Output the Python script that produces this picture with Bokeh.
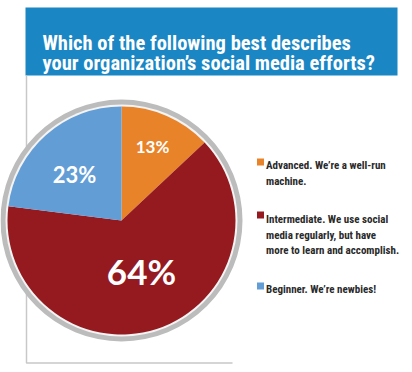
from bokeh.plotting import figure
from bokeh.models import Range1d, ColumnDataSource
from bokeh.core.properties import value
from bokeh.embed import file_html
from bokeh.resources import INLINE
import math

# ---- data ----
title_lines = ["Which of the following best describes",
               "your organization\u2019s social media efforts?"]
categories = ["Advanced", "Intermediate", "Beginner"]
shares = [13, 64, 23]
colors = ["#e8832a", "#951a1f", "#629dd6"]
pct_labels = ["13%", "64%", "23%"]
legend_texts = [
    ["Advanced. We\u2019re a well-run", "machine."],
    ["Intermediate. We use social", "media regularly, but have", "more to learn and accomplish."],
    ["Beginner. We\u2019re newbies!"],
]

W, H = 404, 364
p = figure(width=W, height=H, output_backend="svg", toolbar_location=None,
           x_range=Range1d(0, W), y_range=Range1d(0, H), min_border=0)
p.axis.visible = False
p.grid.visible = False
p.outline_line_color = None
p.background_fill_color = "white"
p.border_fill_color = "white"

cond = value("Roboto Condensed")

# title band
p.quad(left=25, right=397, bottom=289, top=357, fill_color="#1a86c4", line_color=None)
p.text(x=[42, 42], y=[322, 302], text=title_lines, text_font=cond,
       text_font_size="20.5px", text_font_style="bold", text_color="white",
       text_baseline="alphabetic")

# frame lines
p.line(x=[26, 26, 232], y=[289, 1.5, 1.5], line_color="#c8c8c8", line_width=1.5)

# pie
cx, cy, r = 121, 144, 114
p.circle(x=[cx], y=[cy], radius=r + 7, fill_color="#bcbcbc", line_color=None)
p.circle(x=[cx], y=[cy], radius=r + 2, fill_color="#f4f4f4", line_color=None)

total = sum(shares)
starts, ends = [], []
acc = 0.0
for s in shares:
    starts.append(math.pi / 2 - 2 * math.pi * acc / total)
    ends.append(math.pi / 2 - 2 * math.pi * (acc + s) / total)
    acc += s
src = ColumnDataSource(dict(start=starts, end=ends, color=colors))
p.wedge(x=cx, y=cy, radius=r, start_angle="start", end_angle="end",
        direction="clock", fill_color="color", line_color=None, source=src)

# percentage labels
lab_x = [152, 141, 74]
lab_y = [218, 94, 190]
lab_size = ["17px", "35px", "22px"]
for t, x, y, fs in zip(pct_labels, lab_x, lab_y, lab_size):
    p.text(x=[x], y=[y], text=[t], text_font=value("Lato"), text_font_style="bold",
           text_font_size=fs, text_color="white", text_align="center",
           text_baseline="middle")

# legend
sq_y = [202.5, 149.5, 78.5]
base_y = [199, 145, 75]
for (lines, c, sy, by) in zip(legend_texts, colors, sq_y, base_y):
    p.rect(x=[260], y=[sy], width=7, height=7, fill_color=c, line_color=None)
    ys = [by - i * 15.5 for i in range(len(lines))]
    p.text(x=[265.5] * len(lines), y=ys, text=lines, text_font=cond,
           text_font_size="11px", text_font_style="bold", text_color="#2a2a2a",
           text_baseline="alphabetic")

open("out.html", "w").write(file_html(p, INLINE))
